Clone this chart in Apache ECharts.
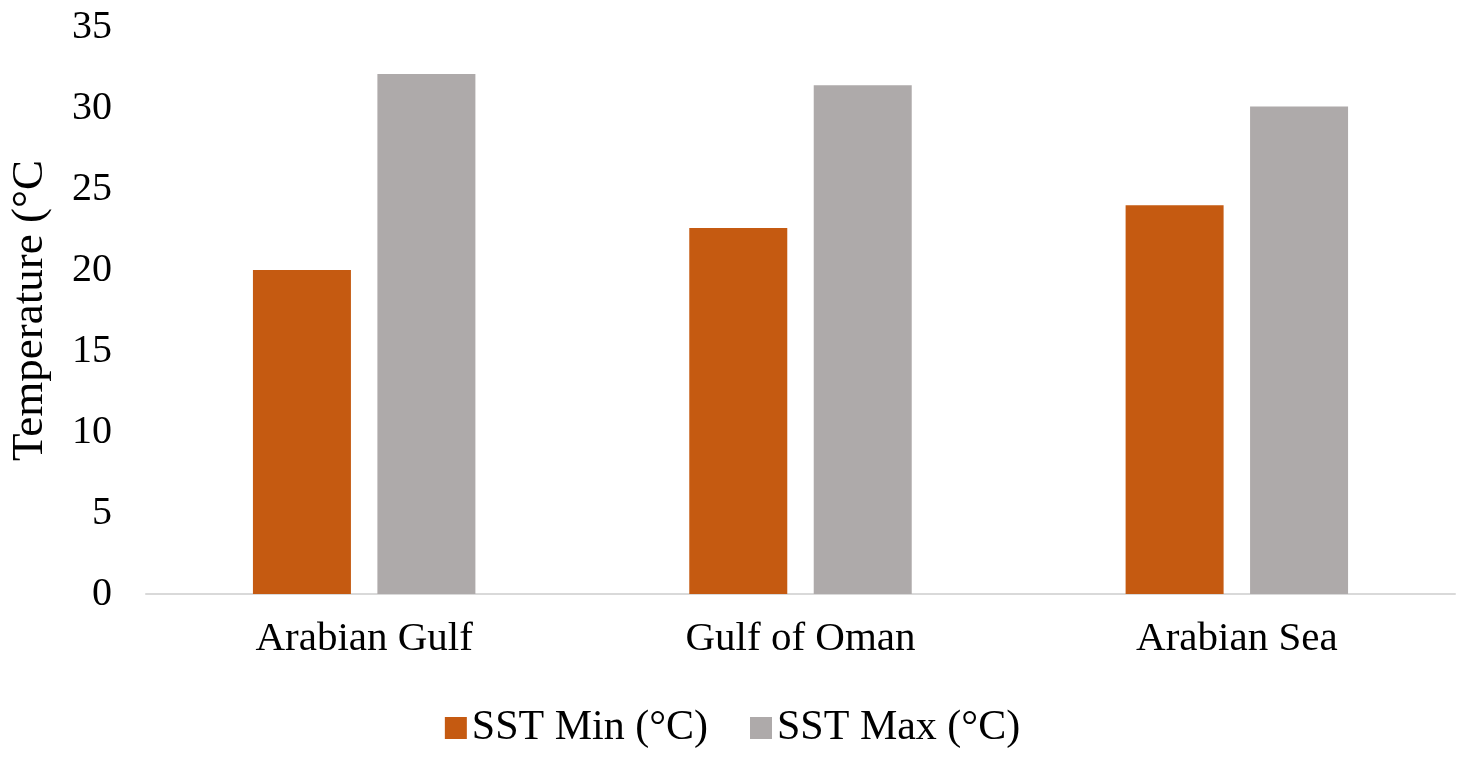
<!DOCTYPE html>
<html>
<head>
    <meta charset="utf-8">
    <title>SST by region</title>
    <script src="https://cdn.jsdelivr.net/npm/echarts@6.0.0/dist/echarts.min.js"></script>
    <style>
        html, body {
            margin: 0;
            padding: 0;
            background-color: #fff;
        }
        #chart {
            width: 1465px;
            height: 762px;
        }
    </style>
</head>
<body>
    <div id="chart"></div>

    <script>
        const regions = ['Arabian Gulf', 'Gulf of Oman', 'Arabian Sea'];
        const sstMin = [20.0, 22.6, 24.0];
        const sstMax = [32.1, 31.4, 30.1];
        const seriesNames = ['SST Min (°C)', 'SST Max (°C)'];

        const font = '"Liberation Serif", "Times New Roman", serif';

        const chart = echarts.init(document.getElementById('chart'));
        const option = {
            animation: false,
            textStyle: { fontFamily: font, color: '#000' },
            grid: { left: 140, right: 10, top: 27, bottom: 168, containLabel: false },
            legend: {
                data: seriesNames,
                bottom: 8,
                left: 'center',
                itemWidth: 22,
                itemHeight: 22,
                itemGap: 42,
                icon: 'rect',
                textStyle: { fontFamily: font, fontSize: 42, color: '#000' }
            },
            xAxis: {
                type: 'category',
                data: regions,
                axisLine: { lineStyle: { color: '#d9d9d9', width: 2 } },
                axisTick: { show: false },
                axisLabel: { fontFamily: font, fontSize: 41, color: '#000', margin: 25 }
            },
            yAxis: {
                type: 'value',
                min: 0,
                max: 35,
                interval: 5,
                name: 'Temperature (°C',
                nameLocation: 'middle',
                nameRotate: 90,
                nameGap: 93,
                nameTextStyle: { fontFamily: font, fontSize: 45, color: '#000' },
                axisLine: { show: false },
                axisTick: { show: false },
                splitLine: { show: false },
                axisLabel: { fontFamily: font, fontSize: 40, color: '#000', margin: 34 }
            },
            series: [
                {
                    name: seriesNames[0],
                    type: 'bar',
                    data: sstMin,
                    barWidth: 98,
                    barGap: '27%',
                    itemStyle: { color: '#C55A11' }
                },
                {
                    name: seriesNames[1],
                    type: 'bar',
                    data: sstMax,
                    barWidth: 98,
                    itemStyle: { color: '#AEAAAA' }
                }
            ]
        };
        chart.setOption(option);
        window.addEventListener('resize', () => chart.resize());
    </script>
</body>
</html>
